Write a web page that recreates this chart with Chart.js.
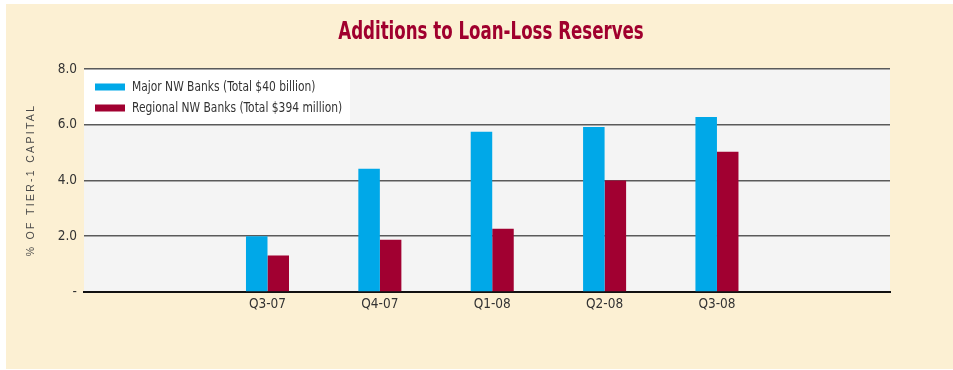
<!DOCTYPE html>
<html>
<head>
<meta charset="utf-8">
<script src="https://cdn.jsdelivr.net/npm/chart.js@4/dist/chart.umd.min.js"></script>
<style>
  html, body { margin: 0; padding: 0; background: #ffffff; }
  #wrap { width: 953px; height: 370px; }
</style>
</head>
<body>
<div id="wrap"><canvas id="c" width="953" height="370"></canvas></div>
<script>
const chartTitle = 'Additions to Loan-Loss Reserves';
const yAxisTitle = '% OF TIER-1 CAPITAL';
const categories = ['Q3-07', 'Q4-07', 'Q1-08', 'Q2-08', 'Q3-08'];
const majorLabel = 'Major NW Banks (Total $40 billion)';
const regionalLabel = 'Regional NW Banks (Total $394 million)';
const majorValues = [2.0, 4.42, 5.75, 5.92, 6.28];
const regionalValues = [1.31, 1.87, 2.27, 4.0, 5.03];
const yTickValues = [0, 2, 4, 6, 8];
const yTickLabels = ['-', '2.0', '4.0', '6.0', '8.0'];

const NARROW = '"DejaVu Sans Condensed", "Liberation Sans", sans-serif';

function narrowText(ctx, text, x, y, sx) {
  ctx.save();
  ctx.translate(x, y);
  ctx.scale(sx, 1);
  ctx.fillText(text, 0, 0);
  ctx.restore();
}

const bgPlugin = {
  id: 'bg',
  beforeDraw(chart) {
    const { ctx, chartArea: a } = chart;
    ctx.save();
    ctx.fillStyle = '#fcf0d3';
    ctx.fillRect(6, 4, chart.width - 6, chart.height - 5);
    ctx.fillStyle = '#f4f4f4';
    ctx.fillRect(a.left, a.top, a.right - a.left, a.bottom - a.top);
    ctx.restore();
  },
  afterDraw(chart) {
    const { ctx } = chart;
    ctx.save();
    // title
    ctx.fillStyle = '#a0002e';
    ctx.font = 'bold 25px ' + NARROW;
    ctx.textAlign = 'center';
    ctx.textBaseline = 'alphabetic';
    narrowText(ctx, chartTitle, 491, 39, 0.74);
    // y axis title
    ctx.translate(31, 180);
    ctx.rotate(-Math.PI / 2);
    ctx.font = '10.5px "Liberation Sans", sans-serif';
    ctx.letterSpacing = '2.3px';
    ctx.fillStyle = '#4a4a4a';
    ctx.textBaseline = 'middle';
    ctx.fillText(yAxisTitle, 0, 0);
    ctx.restore();
  },
  afterDatasetsDraw(chart) {
    // legend box inside plot area
    const { ctx, chartArea: a } = chart;
    ctx.save();
    ctx.fillStyle = '#ffffff';
    ctx.fillRect(a.left, a.top + 1, 266, 54);
    ctx.font = '14px ' + NARROW;
    ctx.textBaseline = 'middle';
    chart.data.datasets.forEach((ds, i) => {
      const y = a.top + 18 + i * 21;
      ctx.fillStyle = ds.backgroundColor;
      ctx.fillRect(a.left + 11, y - 3.5, 30, 7);
      ctx.fillStyle = '#333333';
      narrowText(ctx, ds.label, a.left + 48, y, 0.85);
    });
    ctx.restore();
  }
};

new Chart(document.getElementById('c'), {
  type: 'bar',
  data: {
    datasets: [
      { label: majorLabel, data: majorValues.map((v, i) => ({ x: i, y: v })), backgroundColor: '#00a8e8' },
      { label: regionalLabel, data: regionalValues.map((v, i) => ({ x: i, y: v })), backgroundColor: '#a10031' }
    ]
  },
  options: {
    responsive: false,
    animation: false,
    layout: { padding: { top: 69, right: 63, bottom: 0, left: 0 } },
    datasets: { bar: { categoryPercentage: 0.383, barPercentage: 1.0 } },
    plugins: { legend: { display: false }, title: { display: false }, tooltip: { enabled: false } },
    scales: {
      x: {
        type: 'linear',
        min: -1.633,
        max: 5.54,
        offset: false,
        afterFit(s) { s.height = 78; },
        afterBuildTicks(s) { s.ticks = categories.map((c, i) => ({ value: i })); },
        grid: { display: false, drawTicks: false },
        border: { display: true, color: '#111111', width: 2 },
        ticks: {
          autoSkip: false,
          maxRotation: 0,
          padding: 4,
          color: '#333333',
          font: { family: NARROW, size: 13.5 },
          callback: (v) => categories[v] !== undefined ? categories[v] : ''
        }
      },
      y: {
        min: 0,
        max: 8,
        afterFit(s) { s.width = 84; },
        afterBuildTicks(s) { s.ticks = yTickValues.map(v => ({ value: v })); },
        grid: {
          drawTicks: false,
          color: (c) => c.tick && c.tick.value === 0 ? '#111111' : '#5a5a5a',
          lineWidth: 1.6
        },
        border: { display: false },
        ticks: {
          padding: 7,
          color: '#333333',
          font: { family: NARROW, size: 13.5 },
          callback: (v) => yTickLabels[yTickValues.indexOf(v)]
        }
      }
    }
  },
  plugins: [bgPlugin]
});
</script>
</body>
</html>
